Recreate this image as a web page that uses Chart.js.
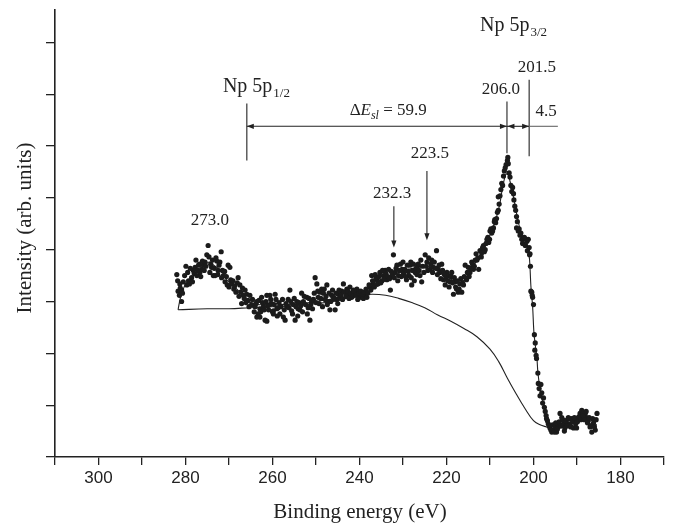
<!DOCTYPE html>
<html>
<head>
<meta charset="utf-8">
<script src="https://cdn.jsdelivr.net/npm/chart.js@4.4.1/dist/chart.umd.min.js"></script>
<style>
  body { margin: 0; background: #fff; }
  canvas { display: block; }
</style>
</head>
<body>
<canvas id="xps" width="676" height="530"></canvas>
<script>
// measured points (binding energy in eV, intensity in arb. units)
var dotE = [
  282.0, 281.7, 281.4, 281.3, 280.9, 280.9, 280.5, 279.9, 279.7, 279.1, 278.6, 278.2, 277.8, 277.4, 277.0,
  276.7, 276.3, 275.9, 275.5, 275.1, 274.8, 274.4, 274.0, 273.6, 273.2, 272.8, 272.5, 272.1, 271.8, 271.7,
  271.3, 270.9, 270.2, 269.8, 270.0, 269.4, 268.9, 267.9, 267.5, 267.3, 268.4, 266.7, 266.3, 265.9, 265.6,
  267.1, 265.2, 264.8, 264.0, 263.6, 263.3, 262.9, 262.5, 262.1, 261.7, 261.3, 260.9, 260.6, 260.2, 259.8,
  259.4, 259.0, 263.6, 262.9, 261.3, 260.6, 259.8, 258.7, 258.3, 257.5, 257.1, 256.7, 256.4, 256.0, 255.6,
  255.2, 254.8, 254.4, 254.1, 253.7, 253.3, 252.9, 252.1, 251.8, 251.4, 251.0, 250.6, 250.2, 249.8, 249.5,
  249.1, 248.7, 248.3, 247.9, 247.5, 247.2, 246.8, 246.4, 246.0, 245.6, 245.2, 244.9, 244.5, 244.1, 243.7,
  243.3, 242.9, 242.6, 242.2, 241.8, 241.4, 241.0, 240.6, 240.3, 239.9, 239.5, 239.1, 238.7, 238.3, 237.6,
  237.2, 236.8, 236.4, 236.0, 235.7, 235.3, 234.9, 234.5, 234.1, 233.7, 233.3, 232.9, 232.5, 232.2, 231.8,
  231.4, 231.0, 230.6, 230.2, 229.8, 229.0, 228.6, 228.2, 227.8, 227.4, 226.6, 229.9, 229.2, 228.4, 228.0,
  227.2, 226.5, 226.1, 225.7, 224.9, 224.5, 224.1, 223.8, 223.4, 223.0, 222.3, 221.9, 221.5, 221.1, 220.7,
  220.3, 219.9, 219.6, 219.2, 218.8, 218.4, 218.0, 217.7, 217.3, 216.9, 216.5, 216.1, 215.7, 215.4, 215.0,
  214.6, 214.2, 213.8, 213.4, 213.0, 212.6, 212.3, 211.9, 211.5, 211.1, 210.7, 210.3, 210.0, 209.6, 209.2,
  208.9, 208.5, 208.1, 208.1, 207.7, 207.3, 206.9, 206.7, 206.3, 205.8, 205.9, 205.4, 205.0, 204.6, 204.3,
  203.9, 203.9, 203.5, 203.1, 202.7, 202.3, 201.7, 201.2, 201.4, 200.9, 200.4, 200.2, 200.0, 200.8, 200.6,
  200.3, 199.8, 199.7, 199.3, 199.0, 198.9, 198.5, 198.1, 197.7, 197.5, 197.1, 197.0, 196.6, 196.2, 195.8,
  195.4, 195.0, 194.7, 194.3, 193.9, 193.5, 193.1, 192.8, 192.4, 192.0, 191.6, 191.2, 190.8, 190.4, 190.1,
  189.7, 189.3, 188.9, 188.5, 188.1, 187.8, 187.4, 187.0, 186.6, 186.2, 185.8, 185.4
];
var dotI = [
  1.76, 1.60, 1.56, 1.67, 1.61, 1.50, 1.69, 1.84, 1.66, 1.67, 1.73, 1.80, 1.83, 1.75, 1.85,
  1.78, 1.81, 1.85, 1.88, 1.95, 2.04, 1.78, 1.83, 1.75, 1.75, 1.89, 1.80, 1.88, 1.98, 1.73,
  1.75, 1.69, 1.85, 1.83, 1.64, 1.67, 1.62, 1.73, 1.66, 1.59, 1.59, 1.56, 1.61, 1.57, 1.51,
  1.48, 1.56, 1.47, 1.45, 1.50, 1.38, 1.43, 1.54, 1.45, 1.32, 1.56, 1.42, 1.56, 1.48, 1.38,
  1.57, 1.43, 1.35, 1.35, 1.31, 1.47, 1.41, 1.44, 1.38, 1.35, 1.32, 1.45, 1.52, 1.61, 1.41,
  1.47, 1.32, 1.50, 1.43, 1.42, 1.58, 1.50, 1.54, 1.44, 1.32, 1.50, 1.52, 1.73, 1.67, 1.54,
  1.59, 1.62, 1.58, 1.52, 1.66, 1.50, 1.42, 1.56, 1.54, 1.42, 1.52, 1.57, 1.54, 1.60, 1.67,
  1.59, 1.62, 1.57, 1.64, 1.54, 1.61, 1.57, 1.62, 1.59, 1.54, 1.56, 1.53, 1.56, 1.54, 1.64,
  1.75, 1.67, 1.76, 1.71, 1.69, 1.78, 1.70, 1.75, 1.80, 1.71, 1.81, 1.61, 1.75, 1.95, 1.78,
  1.85, 1.75, 1.86, 1.81, 1.76, 1.85, 1.75, 1.88, 1.80, 1.70, 1.85, 1.78, 1.71, 1.85, 1.66,
  1.78, 1.86, 1.75, 1.69, 1.95, 1.88, 1.92, 1.81, 1.90, 1.83, 1.99, 1.81, 1.78, 1.86, 1.71,
  1.66, 1.78, 1.75, 1.69, 1.78, 1.57, 1.69, 1.62, 1.59, 1.67, 1.59, 1.66, 1.85, 1.71, 1.83,
  1.78, 1.88, 1.81, 1.90, 1.90, 1.81, 1.99, 1.97, 2.04, 2.00, 2.10, 2.07, 2.18, 2.16, 2.21,
  2.29, 2.30, 2.38, 2.51, 2.52, 2.64, 2.71, 2.76, 2.82, 2.83, 2.89, 2.70, 2.56, 2.54, 2.42,
  2.32, 2.21, 2.18, 2.14, 2.10, 2.11, 2.10, 2.10, 1.99, 1.95, 1.59, 1.54, 1.47, 1.96, 1.60,
  1.56, 1.18, 1.03, 0.95, 0.81, 0.71, 0.59, 0.62, 0.57, 0.48, 0.40, 0.37, 0.32, 0.28, 0.24,
  0.26, 0.29, 0.24, 0.30, 0.42, 0.38, 0.32, 0.28, 0.33, 0.38, 0.32, 0.37, 0.28, 0.35, 0.28,
  0.38, 0.42, 0.45, 0.43, 0.42, 0.38, 0.35, 0.29, 0.24, 0.33, 0.26, 0.42
];

// more points from the denser parts of the scan, [E, I]
var dotsMore = [
  [281.8, 1.70], [281.2, 1.63], [280.7, 1.58], [280.2, 1.75], [279.5, 1.78], [279.3, 1.70], [278.9, 1.82],
  [278.4, 1.69], [278.0, 1.77], [277.6, 1.90], [277.2, 1.80], [276.8, 1.86], [276.5, 1.74], [276.1, 1.89],
  [275.7, 1.80], [275.3, 1.84], [274.6, 1.93], [274.2, 1.86], [273.8, 1.90], [273.4, 1.82], [273.0, 1.92],
  [272.6, 1.76], [272.3, 1.85], [271.5, 1.80], [271.0, 1.79], [270.6, 1.74], [270.4, 1.66], [269.6, 1.71],
  [269.1, 1.70], [268.7, 1.65], [268.1, 1.68], [267.7, 1.55], [266.9, 1.63], [266.5, 1.53], [266.1, 1.49],
  [265.4, 1.45], [264.6, 1.52], [264.2, 1.40], [263.8, 1.48], [263.1, 1.51], [262.7, 1.40], [262.3, 1.49],
  [261.9, 1.42], [261.5, 1.50], [261.1, 1.46], [260.4, 1.52], [260.0, 1.40], [259.6, 1.47], [259.2, 1.52],
  [258.9, 1.36], [258.5, 1.49], [258.1, 1.45], [257.7, 1.52], [257.3, 1.42], [256.9, 1.48], [256.2, 1.44],
  [255.8, 1.50], [255.4, 1.38], [255.0, 1.53], [254.6, 1.45], [254.2, 1.36], [253.9, 1.49], [253.5, 1.46],
  [253.1, 1.40], [252.7, 1.55], [252.4, 1.47], [252.0, 1.38], [251.6, 1.53], [251.2, 1.47], [250.8, 1.43],
  [250.4, 1.58], [250.0, 1.49], [249.6, 1.60], [249.3, 1.48], [248.9, 1.53], [248.5, 1.45], [248.1, 1.62],
  [247.7, 1.55], [247.4, 1.47], [247.0, 1.58], [246.6, 1.50], [246.2, 1.61], [245.8, 1.53], [245.4, 1.58],
  [245.0, 1.48], [244.7, 1.61], [244.3, 1.56], [243.9, 1.52], [243.5, 1.59], [243.1, 1.55], [242.7, 1.60],
  [242.4, 1.53], [242.0, 1.58], [241.6, 1.55], [241.2, 1.60], [240.8, 1.56], [240.4, 1.52], [240.1, 1.58],
  [239.7, 1.60], [239.3, 1.57], [238.9, 1.59], [238.5, 1.62], [238.1, 1.58], [237.8, 1.66], [237.4, 1.61],
  [237.0, 1.70], [236.6, 1.64], [236.2, 1.73], [235.8, 1.67], [235.5, 1.74], [235.1, 1.68], [234.7, 1.80],
  [234.3, 1.72], [233.9, 1.77], [233.5, 1.74], [233.1, 1.72], [232.7, 1.79], [232.0, 1.73], [231.6, 1.82],
  [231.2, 1.70], [230.8, 1.80], [230.4, 1.74], [230.0, 1.88], [229.6, 1.81], [229.4, 1.74], [228.8, 1.79],
  [228.1, 1.73], [227.6, 1.86], [227.0, 1.82], [226.8, 1.76], [226.3, 1.80], [225.9, 1.90], [225.5, 1.84],
  [225.2, 1.78], [224.7, 1.84], [224.3, 1.80], [223.6, 1.86], [223.2, 1.78], [222.8, 1.88], [222.5, 1.82],
  [222.1, 1.76], [221.7, 1.85], [221.3, 1.72], [220.9, 1.80], [220.5, 1.76], [220.1, 1.72], [219.7, 1.70],
  [219.4, 1.64], [219.0, 1.74], [218.6, 1.68], [218.2, 1.73], [217.9, 1.64], [217.5, 1.70], [217.1, 1.62],
  [216.7, 1.72], [216.3, 1.68], [215.9, 1.74], [215.2, 1.78], [214.8, 1.74], [214.4, 1.82], [214.0, 1.86],
  [213.6, 1.84], [213.2, 1.96], [212.8, 1.92], [212.0, 1.93], [211.7, 2.02], [211.3, 1.98], [210.9, 2.06],
  [210.5, 2.12], [210.1, 2.10], [209.8, 2.20], [209.4, 2.18], [209.0, 2.27], [208.7, 2.26], [208.3, 2.36],
  [207.9, 2.44], [207.5, 2.58], [207.1, 2.62], [206.5, 2.79], [206.0, 2.86], [205.6, 2.74], [205.2, 2.62],
  [204.8, 2.60], [204.5, 2.48], [204.1, 2.38], [203.7, 2.27], [203.3, 2.20], [202.9, 2.16], [202.5, 2.06],
  [202.1, 2.12], [201.9, 2.04], [201.5, 2.08], [201.0, 2.02], [200.7, 1.84], [199.6, 1.10], [199.4, 0.98],
  [198.7, 0.66], [198.3, 0.70], [197.9, 0.52], [197.3, 0.44], [196.8, 0.35], [196.4, 0.30], [196.0, 0.26],
  [195.6, 0.31], [195.2, 0.24], [194.9, 0.33], [194.5, 0.27], [194.1, 0.34], [193.7, 0.30], [193.3, 0.36],
  [192.9, 0.25], [192.6, 0.35], [192.2, 0.30], [191.8, 0.37], [191.4, 0.29], [191.0, 0.34], [190.6, 0.38],
  [190.3, 0.32], [189.9, 0.34], [189.5, 0.39], [189.1, 0.36], [188.7, 0.40], [188.3, 0.36], [187.9, 0.44],
  [187.6, 0.33], [187.2, 0.38], [186.8, 0.30], [186.4, 0.37], [186.0, 0.29], [185.6, 0.36]
];

// fitted envelope
var fitE = [
  281.7, 281.5, 281.0, 280.1, 279.0, 278.0, 277.0, 276.0, 275.0, 274.5, 273.5, 272.5, 271.5, 270.5, 269.5,
  268.2, 267.0, 265.9, 264.7, 263.5, 262.0, 260.5, 259.0, 257.5, 256.0, 254.5, 253.0, 251.5, 250.0, 248.5,
  247.0, 245.5, 244.0, 242.5, 241.0, 239.5, 238.0, 236.5, 235.0, 233.5, 232.0, 230.5, 229.0, 227.5, 226.0,
  224.5, 223.0, 221.5, 220.0, 218.5, 217.4, 216.3, 215.0, 213.5, 212.3, 211.0, 210.0, 209.0, 208.4, 207.7,
  207.2, 206.7, 206.3, 205.8, 205.4, 204.8, 204.3, 203.7, 203.1, 202.4, 201.7, 201.3, 200.9, 200.6, 200.2,
  199.9, 199.5, 199.2, 199.0, 198.5, 198.0, 197.4, 196.8, 196.2, 195.7, 195.0, 194.0, 193.0, 192.0, 191.0,
  190.0, 189.0, 188.0, 187.0, 186.0, 185.4
];
var fitI = [
  1.42, 1.47, 1.56, 1.66, 1.71, 1.76, 1.80, 1.83, 1.87, 1.88, 1.85, 1.82, 1.78, 1.71, 1.67,
  1.62, 1.57, 1.52, 1.48, 1.47, 1.47, 1.48, 1.48, 1.47, 1.47, 1.47, 1.48, 1.49, 1.50, 1.51,
  1.52, 1.53, 1.55, 1.56, 1.57, 1.58, 1.60, 1.63, 1.67, 1.72, 1.76, 1.79, 1.81, 1.82, 1.83,
  1.84, 1.83, 1.80, 1.75, 1.70, 1.67, 1.69, 1.76, 1.86, 1.95, 2.05, 2.14, 2.25, 2.33, 2.45,
  2.58, 2.68, 2.73, 2.72, 2.66, 2.55, 2.44, 2.31, 2.20, 2.13, 2.08, 2.03, 1.90, 1.65, 1.45,
  1.20, 1.05, 0.95, 0.82, 0.66, 0.57, 0.44, 0.35, 0.29, 0.27, 0.27, 0.28, 0.29, 0.31, 0.32,
  0.34, 0.36, 0.35, 0.32, 0.31, 0.31
];

// background
var bgE = [281.7, 275, 270, 265.2, 260, 255, 250, 246, 243, 240, 237, 234, 231, 228, 225,
           222, 219, 216, 213, 210, 208, 206, 204, 202, 200, 198.5, 197, 196, 195.4];
var bgI = [1.42, 1.43, 1.43, 1.44, 1.45, 1.46, 1.48, 1.50, 1.53, 1.56, 1.57, 1.56, 1.53, 1.49, 1.44,
           1.37, 1.31, 1.24, 1.16, 1.04, 0.92, 0.76, 0.61, 0.47, 0.35, 0.31, 0.29, 0.28, 0.27];

function pts(xs, ys) {
  return xs.map(function (v, i) { return { x: v, y: ys[i] }; });
}

var dots = pts(dotE, dotI).concat(dotsMore.map(function (p) { return { x: p[0], y: p[1] }; }));

var ink = '#222';
var serif = '"Liberation Serif", "Times New Roman", serif';

function arrowHead(ctx, x, y, dx, dy) {
  // tip at (x,y), pointing along (dx,dy)
  var len = 7, half = 2.6;
  ctx.beginPath();
  ctx.moveTo(x, y);
  ctx.lineTo(x - dx * len - dy * half, y - dy * len + dx * half);
  ctx.lineTo(x - dx * len + dy * half, y - dy * len - dx * half);
  ctx.closePath();
  ctx.fill();
}

function line(ctx, x1, y1, x2, y2) {
  ctx.beginPath();
  ctx.moveTo(x1, y1);
  ctx.lineTo(x2, y2);
  ctx.stroke();
}

function withSub(ctx, main, sub, x, y, size, subSize, drop) {
  ctx.textAlign = 'left';
  ctx.font = size + 'px ' + serif;
  ctx.fillText(main, x, y);
  var w = ctx.measureText(main).width;
  ctx.font = subSize + 'px ' + serif;
  ctx.fillText(sub, x + w + 1, y + drop);
}

var labels = {
  id: 'labels',
  afterDraw: function (chart) {
    var ctx = chart.ctx, sx = chart.scales.x, sy = chart.scales.y;
    var X = function (v) { return sx.getPixelForValue(v); };
    var Y = function (v) { return sy.getPixelForValue(v); };
    ctx.save();
    ctx.fillStyle = ink;
    ctx.strokeStyle = ink;
    ctx.lineWidth = 1.1;
    ctx.textBaseline = 'alphabetic';

    // axis titles
    ctx.font = '21px ' + serif;
    ctx.textAlign = 'center';
    ctx.fillText('Binding energy (eV)', 360, 518);
    ctx.save();
    ctx.translate(31, 228);
    ctx.rotate(-Math.PI / 2);
    ctx.fillText('Intensity (arb. units)', 0, 0);
    ctx.restore();

    // spin-orbit labels
    withSub(ctx, 'Np 5p', '3/2', X(212.3), Y(4.11), 20, 13, 5);
    withSub(ctx, 'Np 5p', '1/2', X(271.4), Y(3.52), 20, 13, 5);

    ctx.font = '17px ' + serif;
    ctx.textAlign = 'center';
    ctx.fillText('201.5', X(199.2), Y(3.71));
    ctx.fillText('206.0', X(207.5), Y(3.50));
    ctx.fillText('4.5', X(197.1), Y(3.29));
    ctx.fillText('223.5', X(223.8), Y(2.88));
    ctx.fillText('232.3', X(232.5), Y(2.50));
    ctx.fillText('273.0', X(274.4), Y(2.24));

    // Delta E_sl = 59.9
    var f1 = '17px ' + serif, f2 = 'italic 17px ' + serif, f3 = 'italic 12px ' + serif;
    ctx.font = f1; var wD = ctx.measureText('\u0394').width;
    ctx.font = f2; var wE = ctx.measureText('E').width;
    ctx.font = f3; var wS = ctx.measureText('sl').width;
    ctx.font = f1; var wR = ctx.measureText(' = 59.9').width;
    var tx = X(233.4) - (wD + wE + wS + wR) / 2, ty = Y(3.30);
    ctx.textAlign = 'left';
    ctx.font = f1; ctx.fillText('\u0394', tx, ty); tx += wD;
    ctx.font = f2; ctx.fillText('E', tx, ty); tx += wE;
    ctx.font = f3; ctx.fillText('sl', tx, ty + 4); tx += wS;
    ctx.font = f1; ctx.fillText(' = 59.9', tx, ty);

    // marker lines
    line(ctx, X(265.9), Y(3.41), X(265.9), Y(2.86));
    line(ctx, X(206.1), Y(3.43), X(206.1), Y(2.93));
    line(ctx, X(201.0), Y(3.64), X(201.0), Y(2.90));

    var yA = Y(3.19);
    line(ctx, X(265.9), yA, X(206.1), yA);
    arrowHead(ctx, X(265.9), yA, -1, 0);
    arrowHead(ctx, X(206.1), yA, 1, 0);
    line(ctx, X(206.1), yA, X(201.0), yA);
    arrowHead(ctx, X(206.1) + 0.5, yA, -1, 0);
    arrowHead(ctx, X(201.0), yA, 1, 0);
    ctx.strokeStyle = '#666';
    line(ctx, X(201.0), yA, X(194.4), yA);
    ctx.strokeStyle = ink;

    // down arrows to the satellites
    line(ctx, X(232.1), Y(2.42), X(232.1), Y(2.02) - 4);
    arrowHead(ctx, X(232.1), Y(2.02), 0, 1);
    line(ctx, X(224.5), Y(2.76), X(224.5), Y(2.09) - 4);
    arrowHead(ctx, X(224.5), Y(2.09), 0, 1);

    ctx.restore();
  }
};

new Chart(document.getElementById('xps'), {
  type: 'scatter',
  data: {
    datasets: [
      {
        data: dots,
        showLine: false,
        pointRadius: 2.6,
        pointBackgroundColor: '#1b1b1b',
        pointBorderWidth: 0
      },
      {
        data: pts(fitE, fitI),
        showLine: true,
        pointRadius: 0,
        borderColor: ink,
        borderWidth: 1.1,
        tension: 0.3
      },
      {
        data: pts(bgE, bgI),
        showLine: true,
        pointRadius: 0,
        borderColor: ink,
        borderWidth: 1.1,
        tension: 0.4
      }
    ]
  },
  options: {
    responsive: false,
    animation: false,
    events: [],
    layout: { padding: { top: 4, right: 12, left: 0, bottom: 0 } },
    plugins: { legend: { display: false }, tooltip: { enabled: false } },
    scales: {
      x: {
        type: 'linear',
        reverse: true,
        min: 170,
        max: 310,
        ticks: {
          stepSize: 10,
          autoSkip: false,
          maxRotation: 0,
          padding: 3,
          color: ink,
          font: { family: '"Liberation Sans", Arial, sans-serif', size: 17 },
          callback: function (v) { return v % 20 === 0 ? String(v) : ''; }
        },
        grid: { drawOnChartArea: false, drawTicks: true, tickLength: 8, color: ink, lineWidth: 1.3 },
        border: { display: true, color: ink, width: 1.6 },
        afterFit: function (s) { s.height = 73; }
      },
      y: {
        min: 0,
        max: 4.31,
        ticks: {
          stepSize: 0.5,
          includeBounds: false,
          autoSkip: false,
          callback: function () { return ''; }
        },
        grid: { drawOnChartArea: false, drawTicks: true, tickLength: 9, color: ink, lineWidth: 1.3 },
        border: { display: true, color: ink, width: 1.6 },
        afterFit: function (s) { s.width = 55; }
      }
    }
  },
  plugins: [labels]
});
</script>
</body>
</html>
